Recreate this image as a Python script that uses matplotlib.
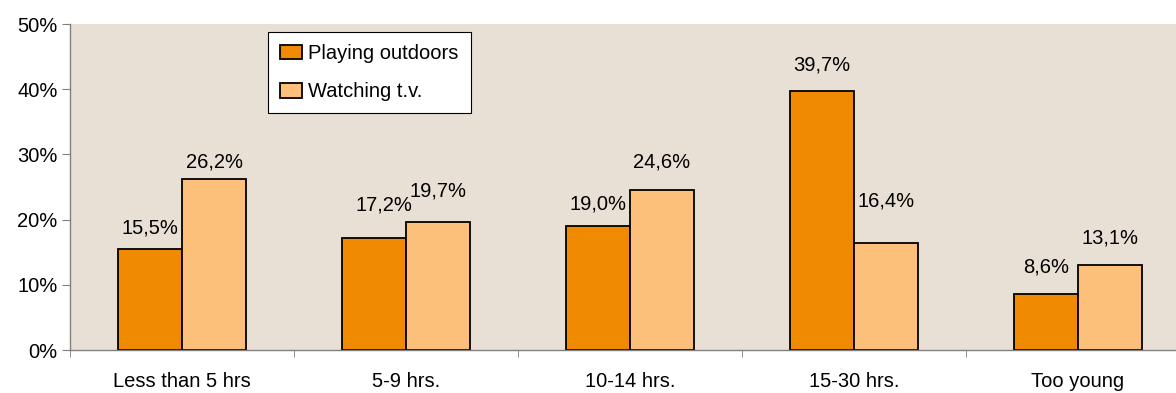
import matplotlib
matplotlib.use("Agg")
import matplotlib.pyplot as plt
import numpy as np
from matplotlib.ticker import FixedLocator, PercentFormatter

plt.rcParams['font.family'] = ['Liberation Sans', 'DejaVu Sans']

categories = ["Less than 5 hrs", "5-9 hrs.", "10-14 hrs.", "15-30 hrs.", "Too young"]
playing_outdoors = [15.5, 17.2, 19.0, 39.7, 8.6]
watching_tv = [26.2, 19.7, 24.6, 16.4, 13.1]
series_names = ["Playing outdoors", "Watching t.v."]

# distance from bar top to label centre (pixels)
outdoor_offsets = [21, 33, 22, 26, 27]
tv_offsets = [17, 31, 28, 42, 27]
# horizontal nudges of labels (pixels)
outdoor_dx = [0, 10, 0, 0, 0]
tv_dx = [0, 0, 0, 0, 0]

FS = 14.5

fig = plt.figure(figsize=(11.76, 3.93), dpi=100)
ax = fig.add_axes([70 / 1176, 43 / 393, 1120 / 1176, 326 / 393])
ax.set_facecolor("#E8E0D4")

x = np.arange(len(categories))
w = 0.286
b1 = ax.bar(x - w / 2, playing_outdoors, w, color="#F08A00", edgecolor="black",
            linewidth=1.3, label=series_names[0])
b2 = ax.bar(x + w / 2, watching_tv, w, color="#FDC07A", edgecolor="black",
            linewidth=1.3, label=series_names[1])

def fmt(v):
    return f"{v:.1f}%".replace(".", ",")

for bars, vals, offs, dxs in ((b1, playing_outdoors, outdoor_offsets, outdoor_dx),
                              (b2, watching_tv, tv_offsets, tv_dx)):
    for rect, v, off, dx in zip(bars, vals, offs, dxs):
        ax.annotate(fmt(v), (rect.get_x() + rect.get_width() / 2, v),
                    xytext=(dx * 0.72, off * 0.72), textcoords="offset points",
                    ha="center", va="center", fontsize=FS)

ax.set_xlim(-0.5, len(categories) - 0.5)
ax.set_ylim(0, 50)
ax.yaxis.set_major_locator(FixedLocator([0, 10, 20, 30, 40, 50]))
ax.yaxis.set_major_formatter(PercentFormatter(decimals=0))

ax.set_xticks(x)
ax.set_xticklabels(categories)
ax.set_xticks(np.arange(len(categories) + 1) - 0.5, minor=True)
ax.tick_params(axis="x", which="major", length=0, pad=16, labelsize=FS)
ax.tick_params(axis="x", which="minor", length=5, color="#808080", direction="out")
ax.tick_params(axis="y", length=6, color="#808080", direction="out", labelsize=FS, pad=3)

for s in ["top", "right"]:
    ax.spines[s].set_visible(False)
for s in ["left", "bottom"]:
    ax.spines[s].set_color("#808080")
    ax.spines[s].set_linewidth(1.0)

leg = ax.legend(loc="upper left", frameon=True, fancybox=False,
                fontsize=FS, handlelength=1.1, handleheight=0.75, handletextpad=0.3,
                labelspacing=0.95, borderpad=0.6, borderaxespad=0)
leg.get_frame().set_edgecolor("black")
leg.get_frame().set_linewidth(0.8)
leg.get_frame().set_facecolor("white")
leg.get_frame().set_alpha(1)
leg.set_bbox_to_anchor((268 / 1176, 1 - 32 / 393), transform=fig.transFigure)

fig.savefig("out.png", dpi=100, facecolor="white")
